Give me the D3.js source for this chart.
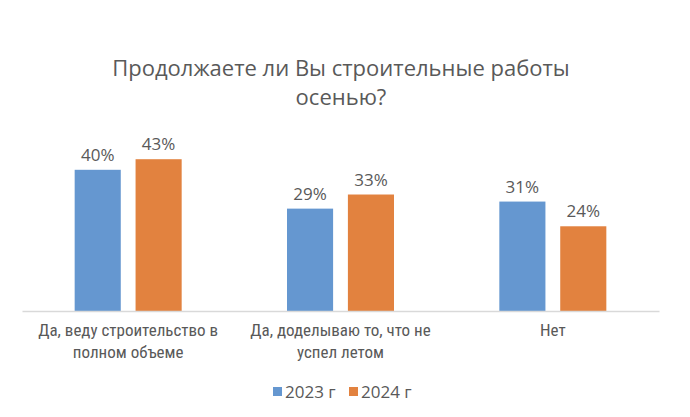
<!DOCTYPE html>
<html>
<head>
<meta charset="utf-8">
<script src="https://cdn.jsdelivr.net/npm/d3@7"></script>
<style>
  body { margin: 0; background: #fff; }
  text { fill: #595959; }
</style>
</head>
<body>
<div class="chart"></div>
<script>
// chart data
var categories = ["Да, веду строительство в|полном объеме", "Да, доделываю то, что не|успел летом", "Нет"];
var seriesNames = ["2023 г", "2024 г"];
var values2023 = [40, 29, 31];
var values2024 = [43, 33, 24];
var colors = ["#6597D0", "#E2823F"];

var svgWidth = 690;
var svgHeight = 417;

var svg = d3.select(".chart")
  .append("svg")
  .attr("width", svgWidth)
  .attr("height", svgHeight);

var plotLeft = 22, plotRight = 659, baseY = 311;

var x0 = d3.scaleBand()
  .domain(categories)
  .range([plotLeft, plotRight])
  .paddingInner(0)
  .paddingOuter(0);

var x1 = d3.scaleBand()
  .domain(seriesNames)
  .range([x0.bandwidth() / 2 - 53.5, x0.bandwidth() / 2 + 53.5])
  .paddingInner(13 / 53.5);

var y = d3.scaleLinear()
  .domain([0, 50])
  .range([baseY, 134.5]);

var rows = categories.map(function(c, i) {
  return { cat: c, vals: [values2023[i], values2024[i]] };
});

var mainFont = "'Open Sans', sans-serif";

// title
svg.append("text")
  .attr("x", 341).attr("y", 76)
  .attr("text-anchor", "middle")
  .style("font-family", mainFont)
  .style("font-size", "22px")
  .text("Продолжаете ли Вы строительные работы");
svg.append("text")
  .attr("x", 341).attr("y", 105)
  .attr("text-anchor", "middle")
  .style("font-family", mainFont)
  .style("font-size", "22px")
  .text("осенью?");

var groups = svg.selectAll(".grp")
  .data(rows)
  .enter()
  .append("g")
  .attr("transform", d => `translate(${x0(d.cat)}, 0)`);

groups.selectAll("rect")
  .data(d => d.vals.map((v, i) => ({ name: seriesNames[i], v: v, i: i })))
  .enter()
  .append("rect")
  .attr("x", d => x1(d.name))
  .attr("y", d => y(d.v))
  .attr("width", x1.bandwidth())
  .attr("height", d => y(0) - y(d.v))
  .attr("fill", d => colors[d.i]);

groups.selectAll(".lbl")
  .data(d => d.vals.map((v, i) => ({ name: seriesNames[i], v: v, i: i })))
  .enter()
  .append("text")
  .attr("x", d => x1(d.name) + x1.bandwidth() / 2)
  .attr("y", d => y(d.v) - 9)
  .attr("text-anchor", "middle")
  .style("font-family", mainFont)
  .style("font-size", "17px")
  .text(d => d.v + "%");

// axis
var xAxis = d3.axisBottom(x0).tickSize(0).tickFormat("");
var axisG = svg.append("g")
  .attr("transform", `translate(0, ${baseY})`)
  .call(xAxis);
axisG.select(".domain").attr("stroke", "#d9d9d9").attr("stroke-width", 1.5);

// category labels
groups.each(function(d) {
  var lines = d.cat.split("|");
  var t = d3.select(this).append("text")
    .attr("text-anchor", "middle")
    .style("font-family", "'Liberation Sans Narrow', 'Roboto Condensed', sans-serif")
    .style("font-size", "17px");
  lines.forEach(function(l, k) {
    t.append("tspan")
      .attr("x", x0.bandwidth() / 2)
      .attr("y", 336 + k * 22)
      .text(l);
  });
});

// legend
var legend = svg.append("g");
var legendX = [273, 349];
seriesNames.forEach(function(s, i) {
  legend.append("rect")
    .attr("x", legendX[i]).attr("y", 387)
    .attr("width", 9).attr("height", 9)
    .attr("fill", colors[i]);
  legend.append("text")
    .attr("x", legendX[i] + 12).attr("y", 398)
    .style("font-family", mainFont)
    .style("font-size", "17px")
    .text(s);
});
</script>
</body>
</html>
